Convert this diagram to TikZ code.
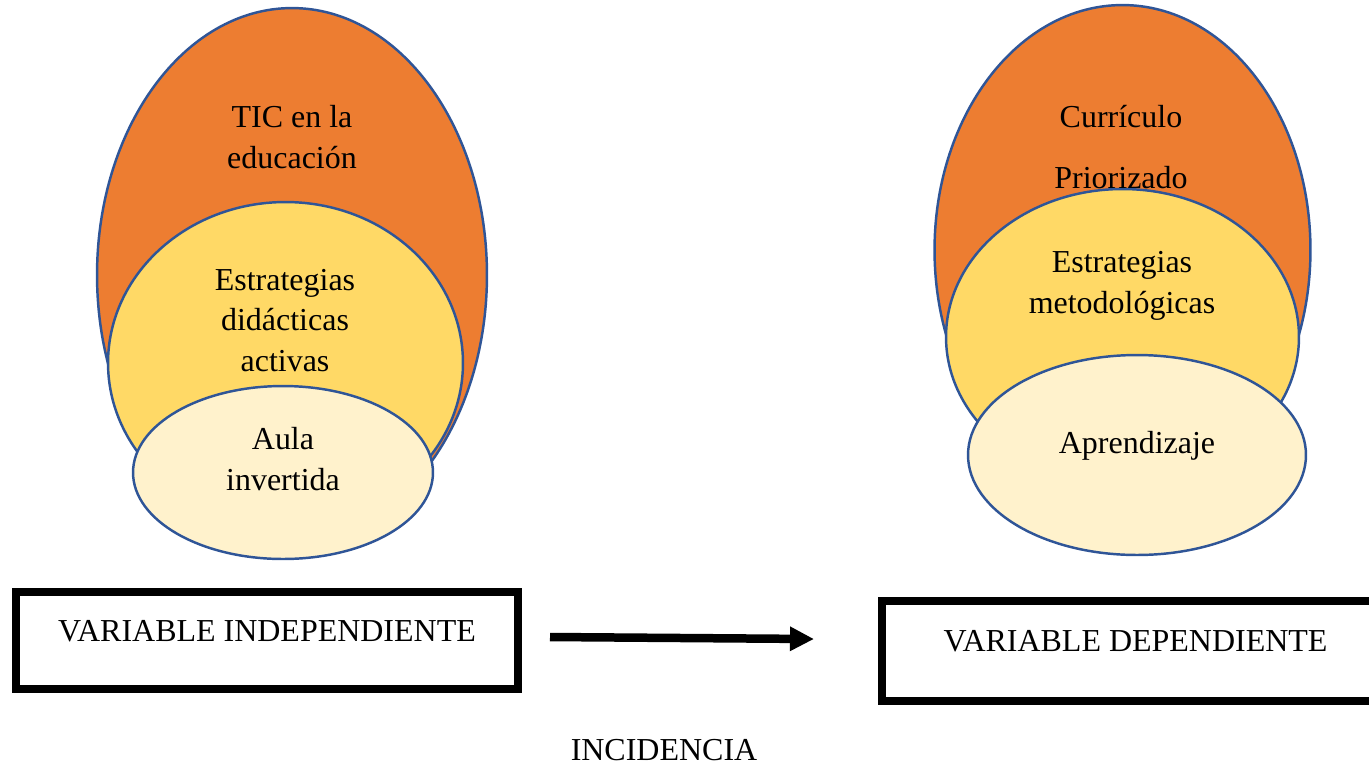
\documentclass[tikz,border=0pt]{standalone}
\usepackage{fontspec}
\setmainfont{Liberation Serif}
\usetikzlibrary{shapes.geometric, arrows.meta}

\definecolor{ringorange}{RGB}{237,125,49}
\definecolor{ringyellow}{RGB}{255,217,102}
\definecolor{ringcream}{RGB}{255,242,204}
\definecolor{ringline}{RGB}{47,85,151}

\begin{document}
\begin{tikzpicture}
            [x=0.02cm, y=-0.02cm, font=\fontsize{18.2}{22.8}\selectfont,
            ring/.style={ellipse, draw=ringline, line width=1.4pt, inner sep=0pt},
            topic/.style={ring, fill=ringorange},
            strategy/.style={ring, fill=ringyellow},
            core/.style={ring, fill=ringcream},
            varbox/.style={rectangle, draw=black, line width=0.16cm, inner sep=0pt},
            txt/.style={anchor=base, align=center, inner sep=0pt},
            incid/.style={-{Triangle[length=0.48cm, width=0.46cm]}, line width=0.17cm}]
            \clip (0,0) rectangle (1369,765);

            \node[topic, minimum width=7.8cm, minimum height=10.68cm]       (tic)  at (292,275)    {};
            \node[strategy, minimum width=7.1cm, minimum height=6.44cm]     (did)  at (285.5,363)  {};
            \node[core, minimum width=6.0cm, minimum height=3.46cm]         (aula) at (283,472.5)  {};

            \node[topic, minimum width=7.52cm, minimum height=9.8cm]        (curr) at (1122.5,250) {};
            \node[strategy, minimum width=7.06cm, minimum height=5.92cm]    (met)  at (1122.5,337) {};
            \node[core, minimum width=6.76cm, minimum height=4.0cm]         (apr)  at (1137,455)   {};

            \node[txt]  (tictxt)  at (292,168)  {TIC en la \\ educación};
            \node[txt]  (didtxt)  at (285,371)  {Estrategias \\ didácticas \\ activas};
            \node[txt]  (aulatxt) at (283,490)  {Aula \\ invertida};
            \node[txt]  (currtxt) at (1121,188) {Currículo \\[0.4cm] Priorizado};
            \node[txt]  (mettxt)  at (1122,313) {Estrategias \\ metodológicas};
            \node[txt]  (aprtxt)  at (1137,453) {Aprendizaje};

            \node[varbox, minimum width=10.04cm, minimum height=1.94cm]     (indep) at (267,640.5) {};
            \node[varbox, minimum width=9.96cm, minimum height=2.0cm]       (dep)   at (1131,651)  {};
            \node[txt]  (indeptxt) at (267,641)    {VARIABLE INDEPENDIENTE};
            \node[txt]  (deptxt)   at (1135.5,651) {VARIABLE DEPENDIENTE};

            \coordinate (incfrom) at (550,637);
            \coordinate (incto)   at (814,639);
            \draw[incid] (incfrom) -- (incto);
            \node[txt]  (inctxt) at (664,760) {INCIDENCIA};
\end{tikzpicture}
\end{document}
